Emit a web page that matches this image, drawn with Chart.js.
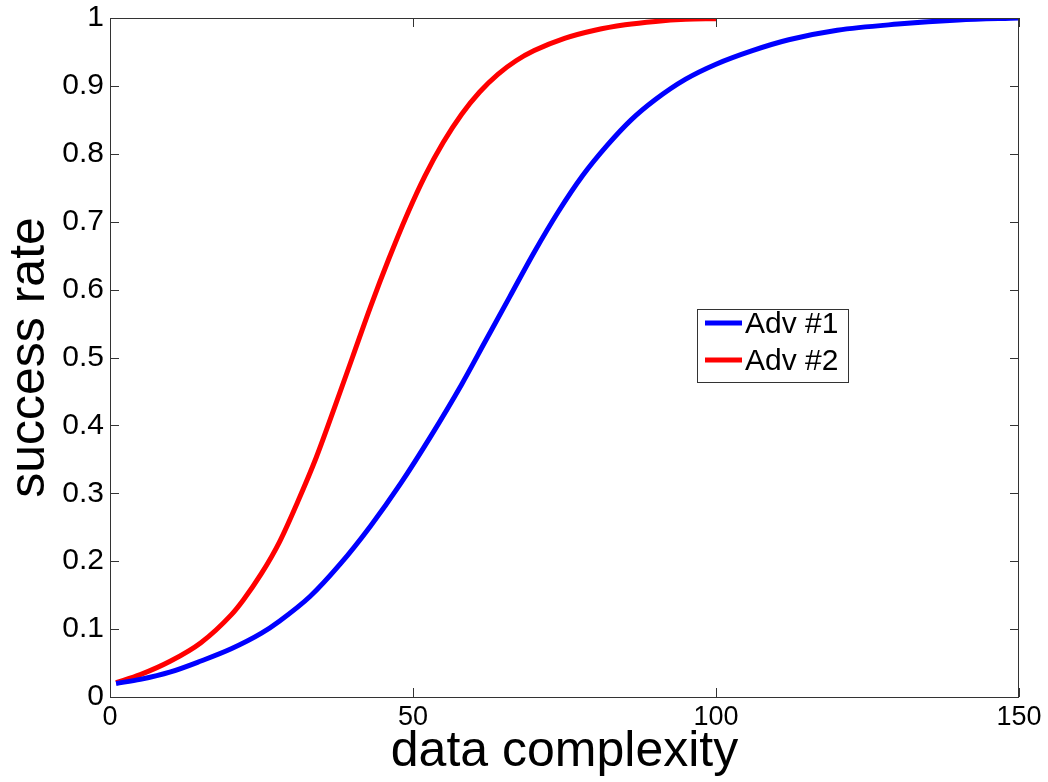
<!DOCTYPE html>
<html>
<head>
<meta charset="utf-8">
<script src="https://cdn.jsdelivr.net/npm/chart.js@4"></script>
<style>
  html, body { margin: 0; padding: 0; background: #fff; }
  #wrap { width: 1048px; height: 782px; }
</style>
</head>
<body>
<div id="wrap"><canvas id="myChart"></canvas></div>
<script>
// values
var adv1X = [1, 5, 10, 15, 20, 25, 28, 33, 38, 43, 48, 53, 58, 62, 66, 70, 74, 78, 82, 86, 90, 95, 100, 106, 112, 120, 130, 140, 150];
var adv1Y = [0.02, 0.026, 0.037, 0.053, 0.071, 0.094, 0.112, 0.148, 0.196, 0.252, 0.315, 0.385, 0.46, 0.525, 0.59, 0.655, 0.715, 0.768, 0.812, 0.85, 0.88, 0.91, 0.932, 0.952, 0.968, 0.982, 0.991, 0.997, 1.0];

var adv2X = [1, 5, 10, 15, 20, 22, 25, 28, 31, 34, 37, 40, 43, 46, 49, 52, 55, 58, 61, 64, 67, 70, 75, 80, 85, 90, 95, 100];
var adv2Y = [0.021, 0.033, 0.053, 0.08, 0.121, 0.143, 0.182, 0.229, 0.288, 0.352, 0.425, 0.5, 0.575, 0.645, 0.71, 0.768, 0.817, 0.858, 0.891, 0.917, 0.937, 0.952, 0.97, 0.982, 0.99, 0.995, 0.998, 0.999];

var xTicks = [0, 50, 100, 150];
var yTicks = [0, 0.1, 0.2, 0.3, 0.4, 0.5, 0.6, 0.7, 0.8, 0.9, 1];

function pts(xs, ys) {
  return xs.map(function (x, i) { return { x: x, y: ys[i] }; });
}

var FONT = "'Liberation Sans', Arial, sans-serif";

// box + inward ticks like matlab
var boxPlugin = {
  id: 'box',
  afterDraw: function (chart) {
    var c = chart.ctx, a = chart.chartArea;
    var sx = chart.scales.x, sy = chart.scales.y;
    var len = 9;
    c.save();
    c.strokeStyle = '#333';
    c.lineWidth = 1;
    c.strokeRect(a.left + 0.5, a.top + 0.5, a.right - a.left - 1, a.bottom - a.top);
    c.beginPath();
    xTicks.forEach(function (v) {
      var px = Math.round(sx.getPixelForValue(v)) + 0.5;
      c.moveTo(px, a.bottom); c.lineTo(px, a.bottom - len);
      c.moveTo(px, a.top); c.lineTo(px, a.top + len);
    });
    yTicks.forEach(function (v) {
      var py = Math.round(sy.getPixelForValue(v)) + 0.5;
      c.moveTo(a.left, py); c.lineTo(a.left + len, py);
      c.moveTo(a.right, py); c.lineTo(a.right - len, py);
    });
    c.stroke();

    // legend
    var lx = 697, ly = 309, lw = 151, lh = 73;
    c.fillStyle = '#fff';
    c.fillRect(lx, ly, lw, lh);
    c.strokeRect(lx + 0.5, ly + 0.5, lw, lh);
    c.font = '30px ' + FONT;
    c.textBaseline = 'middle';
    chart.data.datasets.forEach(function (ds, i) {
      var yy = ly + 14 + i * 37;
      c.strokeStyle = ds.borderColor;
      c.lineWidth = 5;
      c.beginPath();
      c.moveTo(lx + 8, yy); c.lineTo(lx + 45, yy);
      c.stroke();
      c.fillStyle = '#000';
      c.fillText(ds.label, lx + 48, yy + 2);
    });
    c.restore();
  }
};

var myChart = new Chart(document.getElementById('myChart'), {
  type: 'line',
  data: {
    datasets: [
      { label: 'Adv #1', data: pts(adv1X, adv1Y), borderColor: '#0000ff', borderWidth: 5, pointRadius: 0, cubicInterpolationMode: 'monotone', fill: false },
      { label: 'Adv #2', data: pts(adv2X, adv2Y), borderColor: '#ff0000', borderWidth: 5, pointRadius: 0, cubicInterpolationMode: 'monotone', fill: false }
    ]
  },
  options: {
    responsive: true,
    maintainAspectRatio: false,
    animation: false,
    layout: { padding: { left: 0, top: 18, right: 29, bottom: 0 } },
    plugins: { legend: { display: false }, tooltip: { enabled: false } },
    scales: {
      x: {
        type: 'linear', min: 0, max: 150,
        afterBuildTicks: function (s) { s.ticks = xTicks.map(function (v) { return { value: v }; }); },
        afterFit: function (s) { s.height = 85; s.paddingLeft = 0; s.paddingRight = 0; },
        grid: { display: false, drawTicks: false },
        border: { display: false },
        ticks: { color: '#000', font: { size: 27, family: FONT }, padding: 4, maxRotation: 0 },
        title: { display: true, text: 'data complexity', color: '#000', font: { size: 50, family: FONT }, padding: { top: 0, bottom: 0 } }
      },
      y: {
        type: 'linear', min: 0, max: 1,
        afterBuildTicks: function (s) { s.ticks = yTicks.map(function (v) { return { value: v }; }); },
        afterFit: function (s) { s.width = 110; s.paddingTop = 0; s.paddingBottom = 0; },
        grid: { display: false, drawTicks: false },
        border: { display: false },
        ticks: { color: '#000', font: { size: 30, family: FONT }, padding: 6, callback: function (v) { return String(v); } },
        title: { display: true, text: 'success rate', color: '#000', font: { size: 50, family: FONT }, padding: { top: 0, bottom: 0 } }
      }
    }
  },
  plugins: [boxPlugin]
});
</script>
</body>
</html>
